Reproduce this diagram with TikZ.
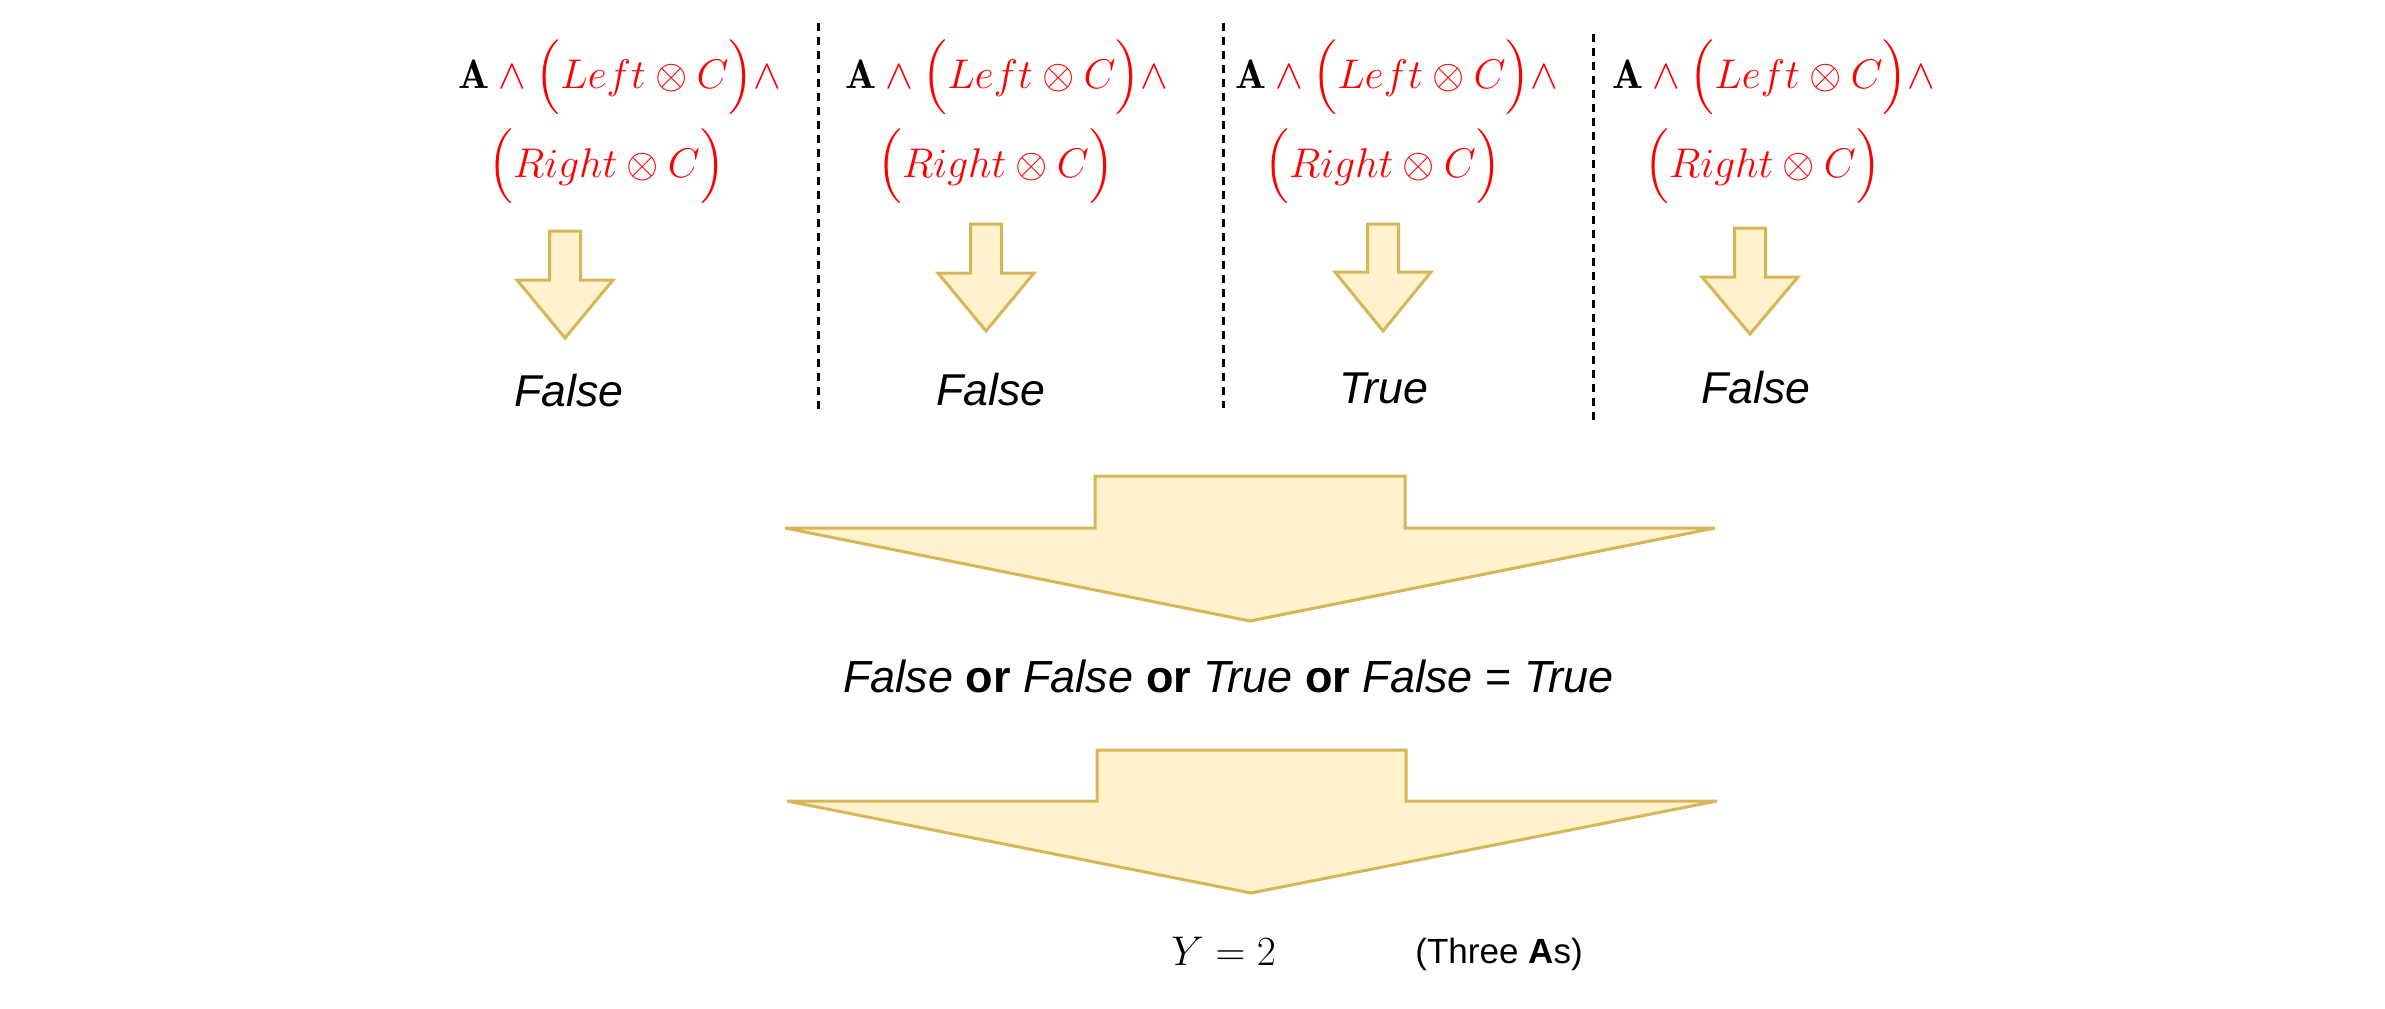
\documentclass[tikz,border=0pt]{standalone}
\usepackage{fontspec}
\usepackage{amsmath}
\newfontfamily\helv{Liberation Sans}
\definecolor{arrfill}{HTML}{FFF2CC}
\definecolor{arrdraw}{HTML}{D6B656}
\definecolor{mred}{HTML}{FF0000}
\newcommand{\myarrow}[6]{%
  \filldraw[arrowstyle] (#1-#5,#2) -- (#1+#5,#2) -- (#1+#5,#3) -- (#1+#6,#3) -- (#1,#4) -- (#1-#6,#3) -- (#1-#5,#3) -- cycle;}
\newcommand{\bigarrow}[8]{% left right shaftL shaftR top shoulder tipx tipy
  \filldraw[arrowstyle] (#3,#5) -- (#4,#5) -- (#4,#6) -- (#2,#6) -- (#7,#8) -- (#1,#6) -- (#3,#6) -- cycle;}
\begin{document}
\begin{tikzpicture}[x=0.5pt,y=-0.5pt,
  arrowstyle/.style={fill=arrfill,draw=arrdraw,line width=1.5pt,line join=miter},
  sep/.style={draw=black,line width=1.5pt,dash pattern=on 4pt off 3pt},
  mth/.style={inner sep=0pt,anchor=base west,text=mred,font=\fontsize{20.5}{24}\selectfont},
  res/.style={inner sep=0pt,anchor=base,font=\helv\itshape\fontsize{22.3}{26}\selectfont},
  plain/.style={inner sep=0pt,anchor=base west}]
\useasboundingbox (0,0) rectangle (2385,1008);

% separators
\coordinate (s1t) at (818,23); \coordinate (s1b) at (818,409);
\coordinate (s2t) at (1223,23); \coordinate (s2b) at (1223,408);
\coordinate (s3t) at (1593,34); \coordinate (s3b) at (1593,420);
\draw[sep] (s1t) -- (s1b);
\draw[sep] (s2t) -- (s2b);
\draw[sep] (s3t) -- (s3b);

% formulas
\node[mth] (f1a) at (458,88) {${\color{black}\mathbf{A}}\wedge\Big(Left\otimes C\Big)\wedge$};
\node[mth] (f1b) at (488,177) {$\Big(Right\otimes C\Big)$};
\node[mth] (f2a) at (845,88) {${\color{black}\mathbf{A}}\wedge\Big(Left\otimes C\Big)\wedge$};
\node[mth] (f2b) at (877,177) {$\Big(Right\otimes C\Big)$};
\node[mth] (f3a) at (1235,88) {${\color{black}\mathbf{A}}\wedge\Big(Left\otimes C\Big)\wedge$};
\node[mth] (f3b) at (1264,177) {$\Big(Right\otimes C\Big)$};
\node[mth] (f4a) at (1612,88) {${\color{black}\mathbf{A}}\wedge\Big(Left\otimes C\Big)\wedge$};
\node[mth] (f4b) at (1644,177) {$\Big(Right\otimes C\Big)$};

% small arrows
\myarrow{565}{231}{280}{338}{15.5}{48}
\myarrow{986}{224}{273}{331}{15.5}{48}
\myarrow{1383}{224}{272}{331}{15.5}{48}
\myarrow{1750}{228}{277}{334}{15.5}{48}

% results
\node[res] (r1) at (569,406) {False};
\node[res] (r2) at (991,405) {False};
\node[res] (r3) at (1384,403) {True};
\node[res] (r4) at (1756,403) {False};

% big arrows
\bigarrow{785}{1715}{1095}{1405}{476}{528}{1250}{621}
\bigarrow{787}{1717}{1097}{1406}{750}{801}{1251}{893}

% combined
\node[plain,font=\helv\fontsize{22.5}{26}\selectfont] (comb) at (843,692)
  {\itshape False \bfseries\upshape or \mdseries\itshape False \bfseries\upshape or \mdseries\itshape True \bfseries\upshape or \mdseries\itshape False \upshape = \itshape True};

% final
\node[plain,font=\fontsize{21}{25}\selectfont] (y) at (1171,965) {$Y=2$};
\node[plain,font=\helv\fontsize{17.5}{21}\selectfont] (note) at (1415,963) {(Three \textbf{A}s)};
\end{tikzpicture}
\end{document}
